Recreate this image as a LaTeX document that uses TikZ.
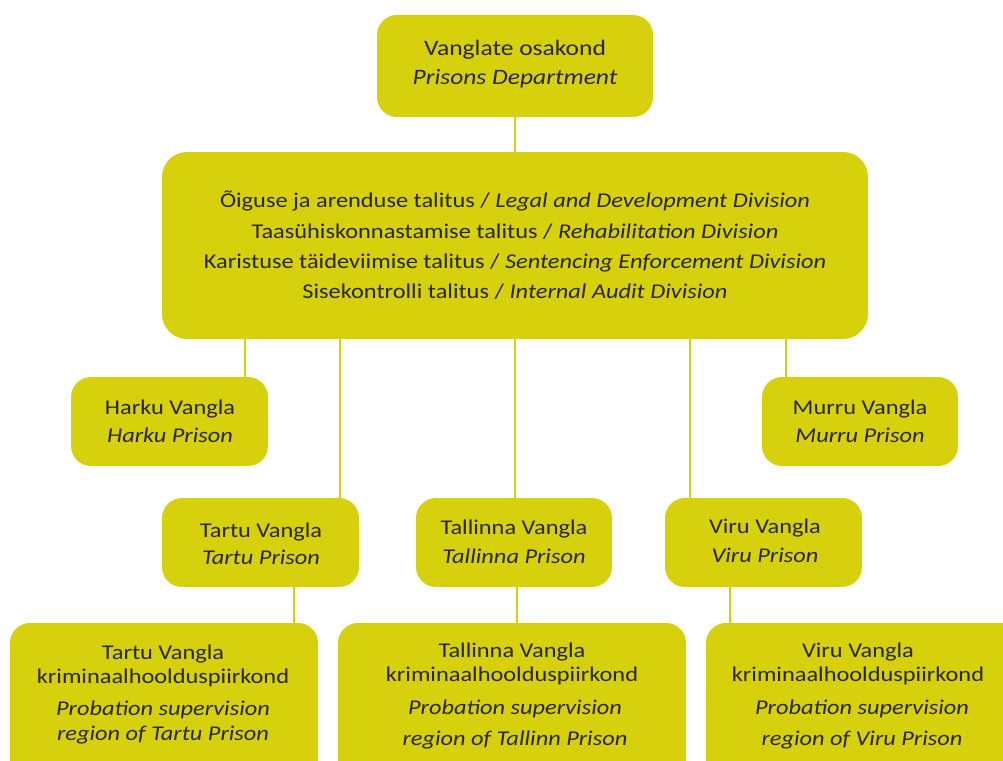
\documentclass[tikz,border=0pt]{standalone}
\usepackage{fontspec}
\setmainfont{Carlito}[FakeStretch=1.16]
\definecolor{boxfill}{RGB}{214,209,12}
\definecolor{txtc}{RGB}{40,38,30}
\begin{document}
\begin{tikzpicture}[x=1pt,y=-1pt,
  box/.style={fill=boxfill, rounded corners=20pt, inner sep=0pt},
  lbl/.style={text=txtc, align=center, inner sep=0pt, font=\fontsize{21}{28}\selectfont},
  link/.style={draw=boxfill, line width=2.6pt}]
\useasboundingbox (0,0) rectangle (1003,760);
\clip (0,0) rectangle (1003,760);
% boxes (shapes only)
\node[box, minimum width=276pt, minimum height=102pt] (dept) at (515,66) {};
\node[box, minimum width=706pt, minimum height=187pt, rounded corners=25pt] (div) at (515,245.5) {};
\node[box, minimum width=197pt, minimum height=89pt] (harku) at (169.5,421.5) {};
\node[box, minimum width=196pt, minimum height=89pt] (murru) at (860,421.5) {};
\node[box, minimum width=197pt, minimum height=89pt] (tartu) at (260.5,542.5) {};
\node[box, minimum width=196pt, minimum height=89pt] (tallinna) at (514,542.5) {};
\node[box, minimum width=197pt, minimum height=89pt] (viru) at (763.5,542.5) {};
\node[box, minimum width=308pt, minimum height=170pt] (ptartu) at (164,708) {};
\node[box, minimum width=348pt, minimum height=170pt] (ptallinn) at (512,708) {};
\node[box, minimum width=324pt, minimum height=170pt] (pviru) at (868,708) {};
% connectors
\draw[link] (dept.south) -- (div.north);
\draw[link] (div.south -| 245,0) -- (harku.north -| 245,0);
\draw[link] (div.south -| 340,0) -- (tartu.north -| 340,0);
\draw[link] (div.south -| 515,0) -- (tallinna.north -| 515,0);
\draw[link] (div.south -| 690,0) -- (viru.north -| 690,0);
\draw[link] (div.south -| 786,0) -- (murru.north -| 786,0);
\draw[link] (tartu.south -| 294,0) -- (ptartu.north -| 294,0);
\draw[link] (tallinna.south -| 517,0) -- (ptallinn.north -| 517,0);
\draw[link] (viru.south -| 730,0) -- (pviru.north -| 730,0);
% texts
\node[lbl, font=\fontsize{22}{29}\selectfont] (deptt) at (515,64.5) {Vanglate osakond\\\textit{Prisons Department}};
\node[lbl, font=\fontsize{21}{30.3}\selectfont] (divt) at (515,245.5) {%
  Õiguse ja arenduse talitus / \textit{Legal and Development Division}\\
  Taasühiskonnastamise talitus / \textit{Rehabilitation Division}\\
  Karistuse täideviimise talitus / \textit{Sentencing Enforcement Division}\\
  Sisekontrolli talitus / \textit{Internal Audit Division}};
\node[lbl] (harkut) at (170,421) {Harku Vangla\\\textit{Harku Prison}};
\node[lbl] (murrut) at (860,421) {Murru Vangla\\\textit{Murru Prison}};
\node[lbl, font=\fontsize{21}{27}\selectfont] (tartut) at (261,543.5) {Tartu Vangla\\\textit{Tartu Prison}};
\node[lbl, font=\fontsize{21}{29}\selectfont] (tallinnat) at (514,541.5) {Tallinna Vangla\\\textit{Tallinna Prison}};
\node[lbl, font=\fontsize{21}{29}\selectfont] (virut) at (765,540.5) {Viru Vangla\\\textit{Viru Prison}};
\node[lbl, font=\fontsize{21}{24}\selectfont] (ptartue) at (163,666) {Tartu Vangla\\kriminaalhoolduspiirkond};
\node[lbl, font=\fontsize{21}{25}\selectfont] (ptartui) at (163,722.5) {\textit{Probation supervision}\\\textit{region of Tartu Prison}};
\node[lbl, font=\fontsize{21}{24}\selectfont] (ptallinne) at (512,664) {Tallinna Vangla\\kriminaalhoolduspiirkond};
\node[lbl, font=\fontsize{21}{31}\selectfont] (ptallinni) at (515,724.5) {\textit{Probation supervision}\\\textit{region of Tallinn Prison}};
\node[lbl, font=\fontsize{21}{24}\selectfont] (pvirue) at (858,664) {Viru Vangla\\kriminaalhoolduspiirkond};
\node[lbl, font=\fontsize{21}{31}\selectfont] (pviruui) at (862,724.5) {\textit{Probation supervision}\\\textit{region of Viru Prison}};
\end{tikzpicture}
\end{document}
